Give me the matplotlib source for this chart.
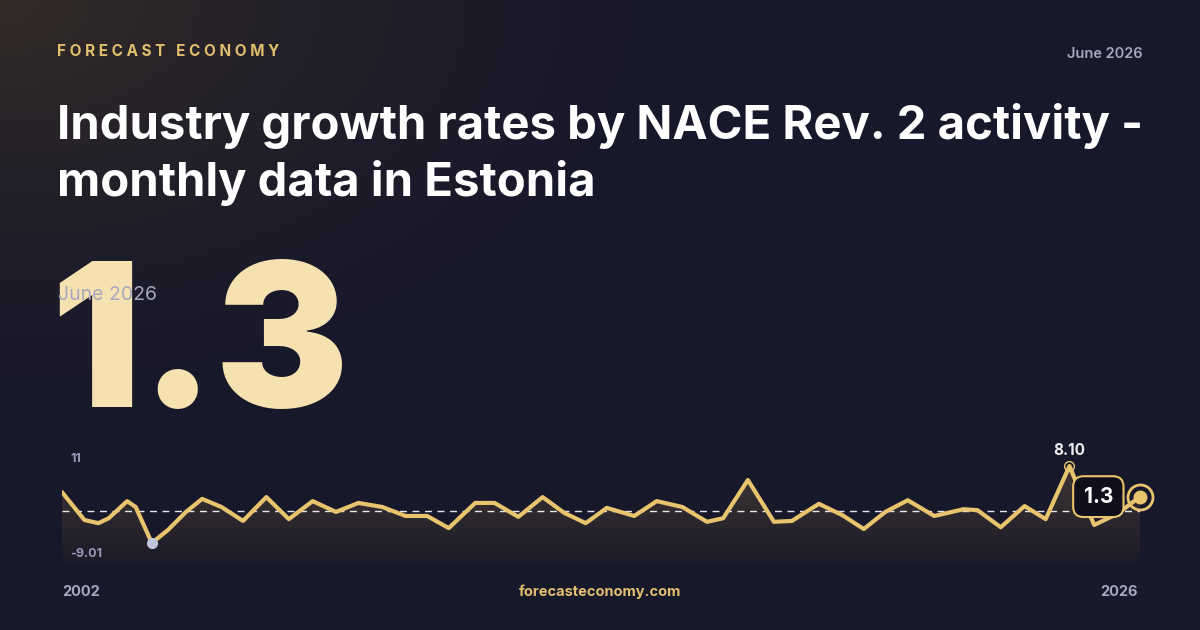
import numpy as np
import matplotlib
matplotlib.use("Agg")
import matplotlib.pyplot as plt

years = [2002.0, 2002.50, 2002.81, 2003.04, 2003.45, 2003.64, 2004.00, 2004.36, 2004.76, 2005.12,
         2005.55, 2006.03, 2006.55, 2007.05, 2007.58, 2008.10, 2008.60, 2009.13, 2009.65, 2010.13,
         2010.61, 2011.20, 2011.63, 2012.16, 2012.70, 2013.18, 2013.66, 2014.13, 2014.74, 2015.24,
         2015.81, 2016.36, 2016.72, 2017.27, 2017.85, 2018.25, 2018.85, 2019.37, 2019.85, 2020.33,
         2020.83, 2021.42, 2022.07, 2022.38, 2022.90, 2023.43, 2023.90, 2024.43, 2024.65, 2024.98,
         2025.50, 2026.0]
values = [2.3, -3.9, -4.6, -3.5, 0.3, -1.0, -9.01, -6.1, -2.1, 0.8,
          -1.0, -4.1, 1.2, -3.7, 0.3, -2.1, -0.1, -1.0, -3.0, -3.0,
          -5.7, -0.1, -0.1, -3.2, 1.2, -2.3, -4.6, -1.2, -3.0, 0.3,
          -1.0, -4.3, -3.5, 5.0, -4.3, -4.1, -0.3, -2.8, -5.9, -2.1,
          0.5, -3.0, -1.5, -1.7, -5.5, -0.8, -3.7, 8.10, 2.8, -5.0,
          -2.5, 1.3]
avg_value = -1.9
y_top, y_min_label = 11, -9.01
latest_label = "1.3"
period = "June 2026"

W, H = 1200, 630
fig = plt.figure(figsize=(12, 6.3), dpi=100)

bg = fig.add_axes([0, 0, 1, 1])
yy, xx = np.mgrid[0:H, 0:W]
base = np.array([0.095, 0.095, 0.17])
glow = np.array([0.20, 0.17, 0.15])
d = np.sqrt((xx / 700.0) ** 2 + (yy / 420.0) ** 2)
t = np.clip(1 - d, 0, 1)[..., None] ** 1.5
img = base * (1 - t) + glow * t
bg.imshow(img, extent=[0, W, H, 0], aspect='auto')
bg.set_xlim(0, W); bg.set_ylim(H, 0); bg.axis('off')

F = 'Inter'
bg.text(57, 52, "F O R E C A S T   E C O N O M Y", color='#e2bf6e', fontsize=11, fontweight='bold', family=F, va='center')
bg.text(1143, 54, period, color='#a7a7c0', fontsize=10.5, family=F, ha='right', va='center', fontweight='semibold')
bg.text(57, 126, "Industry growth rates by NACE Rev. 2 activity -", color='white', fontsize=34, fontweight='bold', family=F, va='center')
bg.text(57, 183, "monthly data in Estonia", color='white', fontsize=34, fontweight='bold', family=F, va='center')
bg.text(50, 407, latest_label, color='#f6e2b0', fontsize=144, fontweight='black', family=F, va='baseline')
bg.text(58, 295, period, color='#a7a7c0', fontsize=14, family=F, va='center')
bg.text(62, 592, "2002", color='#a7a7c0', fontsize=10.5, fontweight='bold', family=F, va='center')
bg.text(1138, 592, "2026", color='#a7a7c0', fontsize=10.5, fontweight='bold', family=F, va='center', ha='right')
bg.text(600, 592, "forecasteconomy.com", color='#e2bf6e', fontsize=10.5, fontweight='bold', family=F, va='center', ha='center')

ax = fig.add_axes([62 / W, 1 - 565 / H, (1140 - 62) / W, (565 - 453) / H])
ax.patch.set_alpha(0)
ylo = -13.9
ax.set_xlim(2002, 2026); ax.set_ylim(ylo, y_top)
ax.axis('off')
x = np.array(years); v = np.array(values)
poly = ax.fill_between(x, v, ylo, color='none', lw=0)
grad = np.linspace(0, 1, 256)[:, None]
cmap = matplotlib.colors.LinearSegmentedColormap.from_list('g', ['#1b1a28', '#3e3533'])
im = ax.imshow(grad, extent=[2002, 2026, ylo, y_top], origin='lower', aspect='auto', cmap=cmap,
               vmin=0, vmax=0.85)
im.set_clip_path(poly.get_paths()[0], transform=ax.transData)
ax.axhline(avg_value, color='white', lw=1, ls=(0, (5, 4)), alpha=0.9)
ax.plot(x, v, color='#e8c46e', lw=3, solid_joinstyle='round', solid_capstyle='round')
imin = int(np.argmin(v)); imax = int(np.argmax(v))
ax.plot(x[imin], v[imin], 'o', color='#c0c4dc', ms=7, zorder=5)
ax.plot(x[imax], v[imax], 'o', mfc='none', mec='#e8c46e', ms=7, zorder=5)
ax.annotate(f"{v[imax]:.2f}", (x[imax], v[imax]), xytext=(0, 8), textcoords='offset points',
            ha='center', color='#eeeeee', fontsize=11, fontweight='bold', family=F, annotation_clip=False)
ax.text(0.008, 1.0, str(y_top), transform=ax.transAxes, color='#9a9ab8', fontsize=9, fontweight='bold', family=F, va='top')
ax.text(0.008, 0.1, f"{y_min_label:.2f}", transform=ax.transAxes, color='#9a9ab8', fontsize=9, fontweight='bold', family=F, va='center', zorder=6)
ax.annotate(latest_label, (x[-1], v[-1]), xytext=(-30, 0), textcoords='offset points',
            ha='center', va='center', color='white', fontsize=15, fontweight='bold', family=F,
            bbox=dict(boxstyle='round,pad=0.5,rounding_size=0.5', fc='#0f0f1c', ec='#e8c46e', lw=1.5),
            zorder=5, annotation_clip=False)
ax.plot(x[-1], v[-1], 'o', mfc='#e8c46e', mec='#e8c46e', ms=9, zorder=7, clip_on=False)
ax.plot(x[-1], v[-1], 'o', mfc='none', mec='#e8c46e', ms=18, mew=2, zorder=7, clip_on=False)

fig.savefig("out.png", dpi=100)
